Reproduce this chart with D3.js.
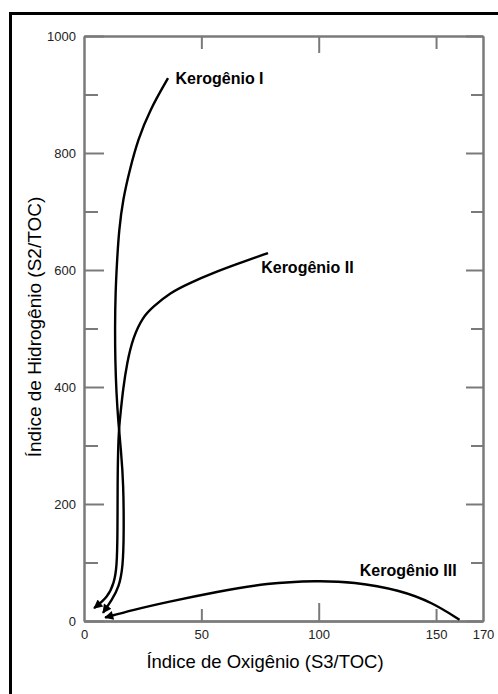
<!DOCTYPE html>
<html>
<head>
<meta charset="utf-8">
<script src="https://cdn.jsdelivr.net/npm/d3@7"></script>
<style>
  body { margin: 0; background: #fff; }
  svg { display: block; font-family: "Liberation Sans", Arial, sans-serif; }
  .axis path, .axis line { stroke: #7a7a7a; stroke-width: 2; }
  .axis text { fill: #222; font-size: 13px; }
  .curve { fill: none; stroke: #000; stroke-width: 2.4; }
  .kero-label { font-size: 16px; font-weight: bold; fill: #000; }
  .title { fill: #000; }
</style>
</head>
<body>
<svg id="chart" width="498" height="694"></svg>
<script>
// ticks
const xTickLabels = [0, 50, 100, 150, 170];
const xMajorTicks = [100];
const xMinorTicks = [50, 150];
const yTickLabels = [0, 200, 400, 600, 800, 1000];
const yMinorTicks = [100, 300, 500, 700, 900];

// curves, [oxygen index, hydrogen index], ending at the arrow tip
const kerogenI = [
  [35.8, 928], [28.1, 874], [23.0, 823], [19.6, 773], [16.6, 721], [14.9, 668],
  [14.1, 617], [13.4, 561], [13.2, 503], [13.3, 446], [13.8, 390], [14.6, 340],
  [15.8, 290], [16.8, 236], [17.0, 150], [16.6, 92], [14.9, 58], [11.9, 36], [8.1, 14]
];
const kerogenII = [
  [78.4, 629], [66.5, 612], [55.0, 595], [45.2, 578], [36.6, 561], [29.4, 537],
  [25.1, 520], [20.9, 485], [18.3, 441], [16.6, 395], [15.6, 356], [14.9, 330],
  [14.5, 290], [14.3, 236], [14.3, 150], [14.0, 92], [12.8, 65], [10.2, 41], [4.3, 22]
];
const kerogenIII = [
  [160, 2], [148.7, 31], [134.6, 53], [114.6, 67], [99.3, 69], [78, 65],
  [56.7, 50], [35.4, 32.5], [20.9, 19], [9, 6]
];

const labels = [
  { text: "Kerogênio I", at: [39, 918] },
  { text: "Kerogênio II", at: [75.5, 595] },
  { text: "Kerogênio III", at: [117.5, 77] }
];

const plot = { left: 84, right: 483, top: 36, bottom: 621 };

const svg = d3.select("#chart");

// frame (only top and left edges are inside the picture)
svg.append("line").attr("x1", 9).attr("x2", 498).attr("y1", 13.5).attr("y2", 13.5)
  .attr("stroke", "#000").attr("stroke-width", 3);
svg.append("line").attr("x1", 10.5).attr("x2", 10.5).attr("y1", 12).attr("y2", 694)
  .attr("stroke", "#000").attr("stroke-width", 3);

const x = d3.scaleLinear().domain([0, 170]).range([plot.left, plot.right]);
const y = d3.scaleLinear().domain([0, 1000]).range([plot.bottom, plot.top]);

// left axis
svg.append("g").attr("class", "axis")
  .attr("transform", `translate(${plot.left},0)`)
  .call(d3.axisLeft(y).tickValues(yTickLabels).tickFormat(d3.format("d"))
    .tickSize(-20).tickSizeOuter(0).tickPadding(8));
svg.append("g").attr("class", "axis")
  .attr("transform", `translate(${plot.left},0)`)
  .call(d3.axisLeft(y).tickValues(yMinorTicks).tickSize(-14).tickSizeOuter(0).tickFormat(""));

// right axis
svg.append("g").attr("class", "axis")
  .attr("transform", `translate(${plot.right},0)`)
  .call(d3.axisRight(y).tickValues(yTickLabels).tickSize(-17).tickSizeOuter(0).tickFormat(""));
svg.append("g").attr("class", "axis")
  .attr("transform", `translate(${plot.right},0)`)
  .call(d3.axisRight(y).tickValues(yMinorTicks).tickSize(-12).tickSizeOuter(0).tickFormat(""));

// bottom axis
svg.append("g").attr("class", "axis")
  .attr("transform", `translate(0,${plot.bottom})`)
  .call(d3.axisBottom(x).tickValues(xTickLabels).tickSize(0).tickSizeOuter(0).tickPadding(9));
svg.append("g").attr("class", "axis")
  .attr("transform", `translate(0,${plot.bottom})`)
  .call(d3.axisBottom(x).tickValues(xMajorTicks).tickSize(-18).tickSizeOuter(0).tickFormat(""));
svg.append("g").attr("class", "axis")
  .attr("transform", `translate(0,${plot.bottom})`)
  .call(d3.axisBottom(x).tickValues(xMinorTicks).tickSize(-12).tickSizeOuter(0).tickFormat(""));

// top axis
svg.append("g").attr("class", "axis")
  .attr("transform", `translate(0,${plot.top})`)
  .call(d3.axisTop(x).tickValues(xMajorTicks).tickSize(-17).tickSizeOuter(0).tickFormat(""));
svg.append("g").attr("class", "axis")
  .attr("transform", `translate(0,${plot.top})`)
  .call(d3.axisTop(x).tickValues(xMinorTicks).tickSize(-13).tickSizeOuter(0).tickFormat(""));

// arrowhead
svg.append("defs").append("marker")
  .attr("id", "arrow")
  .attr("viewBox", "0 0 10 10")
  .attr("refX", 9).attr("refY", 5)
  .attr("markerUnits", "userSpaceOnUse")
  .attr("markerWidth", 13).attr("markerHeight", 9)
  .attr("orient", "auto")
  .append("path").attr("d", "M0,0 L10,5 L0,10 Z").attr("fill", "#000");

const line = d3.line()
  .x(d => x(d[0]))
  .y(d => y(d[1]))
  .curve(d3.curveBasis);

[kerogenI, kerogenII, kerogenIII].forEach(pts => {
  svg.append("path")
    .attr("class", "curve")
    .attr("d", line(pts))
    .attr("marker-end", "url(#arrow)");
});

svg.selectAll(".kero-label").data(labels).enter().append("text")
  .attr("class", "kero-label")
  .attr("x", d => x(d.at[0]))
  .attr("y", d => y(d.at[1]))
  .text(d => d.text);

svg.append("text").attr("class", "title")
  .attr("x", 265).attr("y", 668)
  .attr("text-anchor", "middle")
  .style("font-size", "18.5px")
  .text("Índice de Oxigênio (S3/TOC)");

svg.append("text").attr("class", "title")
  .attr("transform", "translate(41,327) rotate(-90)")
  .attr("text-anchor", "middle")
  .style("font-size", "19px")
  .text("Índice de Hidrogênio (S2/TOC)");
</script>
</body>
</html>
